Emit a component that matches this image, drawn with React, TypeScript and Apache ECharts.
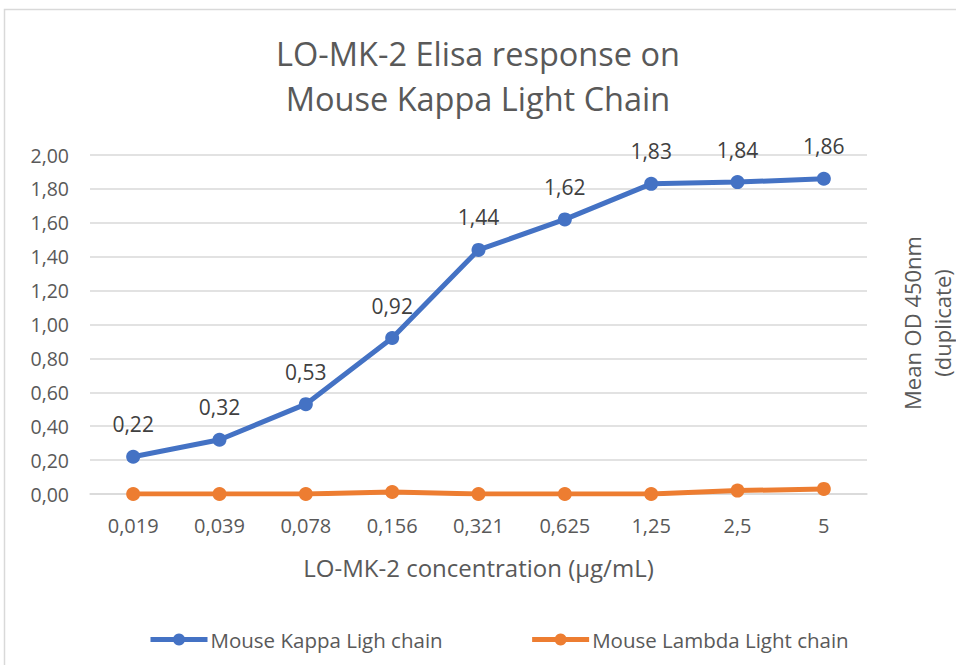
import React, { useEffect, useRef } from "react";
import * as echarts from "echarts";

const categories = ["0,019", "0,039", "0,078", "0,156", "0,321", "0,625", "1,25", "2,5", "5"];
const kappaValues = [0.22, 0.32, 0.53, 0.92, 1.44, 1.62, 1.83, 1.84, 1.86];
const lambdaValues = [0.0, 0.0, 0.0, 0.012, 0.0, 0.0, 0.0, 0.02, 0.03];
const kappaName = "Mouse Kappa Ligh chain";
const lambdaName = "Mouse Lambda Light chain";
const titleText = "LO-MK-2 Elisa response on\nMouse Kappa Light Chain";
const xAxisName = "LO-MK-2 concentration (µg/mL)";
const yAxisName = "Mean OD 450nm\n(duplicate)";

const FONT = "'Open Sans', 'Noto Sans', sans-serif";
const TXT = "#595959";
const fmt = (v: number) => v.toFixed(2).replace(".", ",");

export default function App() {
  const ref = useRef<HTMLDivElement>(null);
  useEffect(() => {
    if (!ref.current) return;
    const chart = echarts.init(ref.current, undefined, { renderer: "svg" });
    chart.setOption({
      animation: false,
      backgroundColor: "#ffffff",
      textStyle: { fontFamily: FONT },
      title: {
        text: titleText,
        left: "center",
        top: 26,
        textStyle: { fontFamily: FONT, fontSize: 32.5, fontWeight: "normal", color: TXT, lineHeight: 45 },
      },
      legend: {
        bottom: 10,
        left: 143,
        itemGap: 87,
        itemWidth: 57,
        itemHeight: 15,
        lineStyle: { width: 5 },
        textStyle: { fontFamily: FONT, fontSize: 20.5, color: TXT, padding: [0, 0, 0, -2] },
        data: [kappaName, lambdaName],
      },
      grid: { left: 90, right: 89, top: 155, bottom: 171 },
      xAxis: {
        type: "category",
        data: categories,
        boundaryGap: true,
        name: xAxisName,
        nameLocation: "middle",
        nameGap: 61,
        nameTextStyle: { fontFamily: FONT, fontSize: 24, color: TXT },
        axisLine: { show: true, lineStyle: { color: "#d9d9d9", width: 1.5 } },
        axisTick: { show: false },
        axisLabel: { margin: 21, fontFamily: FONT, fontSize: 20, color: TXT },
      },
      yAxis: {
        type: "value",
        min: 0,
        max: 2,
        interval: 0.2,
        axisLine: { show: false },
        axisTick: { show: false },
        splitLine: { lineStyle: { color: "#d9d9d9", width: 1.5 } },
        axisLabel: { margin: 21, fontFamily: FONT, fontSize: 19.5, color: TXT, formatter: (v: number) => fmt(v) },
      },
      graphic: [
        {
          type: "rect",
          shape: { x: 4.5, y: 9.5, width: 1000, height: 1000 },
          style: { fill: "none", stroke: "#d9d9d9", lineWidth: 1.5 },
          silent: true,
          z: -10,
        },
        {
          type: "text",
          x: 927,
          y: 323,
          rotation: Math.PI / 2,
          style: {
            text: yAxisName,
            fontFamily: FONT,
            fontSize: 22,
            fill: TXT,
            align: "center",
            verticalAlign: "middle",
            lineHeight: 30,
          },
        },
      ],
      series: [
        {
          name: kappaName,
          type: "line",
          data: kappaValues,
          color: "#4472C4",
          symbol: "circle",
          symbolSize: 14,
          lineStyle: { width: 5, color: "#4472C4" },
          itemStyle: { color: "#4472C4" },
          label: {
            show: true,
            position: "top",
            distance: 15,
            fontFamily: FONT,
            fontSize: 21,
            color: "#404040",
            formatter: (p: any) => fmt(p.value),
          },
        },
        {
          name: lambdaName,
          type: "line",
          data: lambdaValues,
          color: "#ED7D31",
          symbol: "circle",
          symbolSize: 14,
          lineStyle: { width: 5, color: "#ED7D31" },
          itemStyle: { color: "#ED7D31" },
        },
      ],
    });
    return () => chart.dispose();
  }, []);
  return <div ref={ref} style={{ position: "fixed", left: 0, top: 0, width: 956, height: 665 }} />;
}
